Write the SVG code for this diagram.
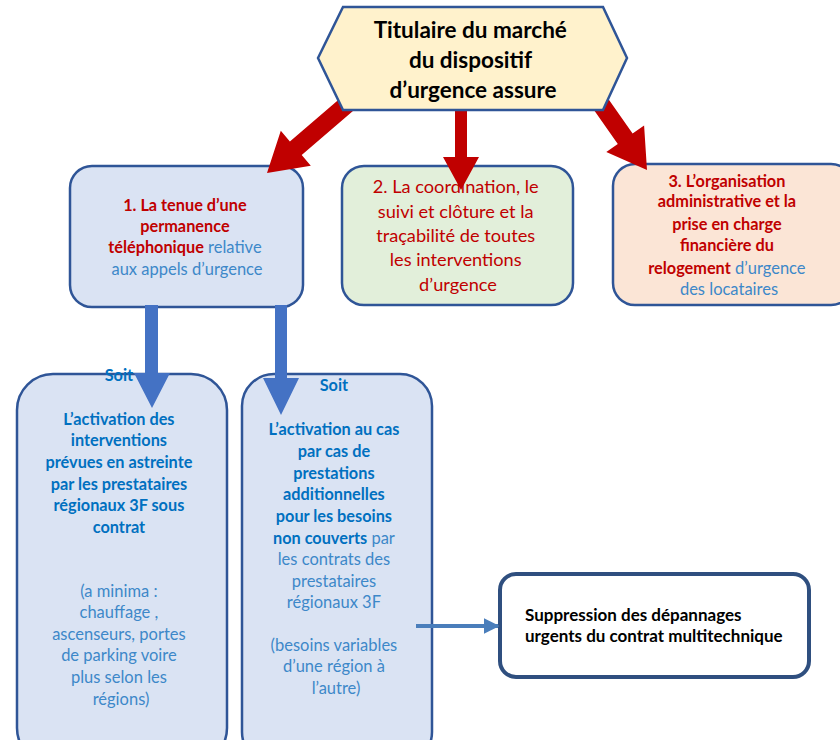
<svg xmlns="http://www.w3.org/2000/svg" width="840" height="740" viewBox="0 0 840 740">
<style>
.box{stroke:#2f5597;stroke-width:2.5}
.t{font-family:Lato,"Liberation Sans",sans-serif;text-anchor:middle}
.red{fill:#c00000}
.bb{fill:#0070c0;font-weight:bold}
.lb{fill:#3d88c9;font-size:16.5px}
.b{font-weight:bold}
.redarrow{fill:#c00000}
.bluearrow{fill:#4472c4}
</style>
<defs>
<marker id="ah" viewBox="0 0 10 10" refX="9" refY="5" markerWidth="4" markerHeight="4" orient="auto" markerUnits="strokeWidth">
<path d="M0,0 L10,5 L0,10 z" fill="#4a7ebb"/>
</marker>
</defs>
<rect width="840" height="740" fill="#ffffff"/>

<g id="n1">
<rect class="box" x="70" y="166" width="233" height="141" rx="22" fill="#dae3f3"/>
<text class="t" font-size="16.3">
<tspan class="red b" x="187" y="211">1. La tenue d’une</tspan>
<tspan class="red b" x="187" y="232">permanence</tspan>
<tspan x="187" y="253"><tspan class="red b">téléphonique</tspan><tspan class="lb"> relative</tspan></tspan>
<tspan class="lb" x="187" y="275">aux appels d’urgence</tspan>
</text>
</g>

<g id="n2">
<rect class="box" x="342" y="166" width="231" height="139" rx="22" fill="#e2efda"/>
<text class="t red" font-size="18.2">
<tspan x="458" y="193">2. La coordination, le</tspan>
<tspan x="458" y="218">suivi et clôture et la</tspan>
<tspan x="458" y="242">traçabilité de toutes</tspan>
<tspan x="458" y="266">les interventions</tspan>
<tspan x="458" y="291">d’urgence</tspan>
</text>
</g>

<g id="n3">
<rect class="box" x="613" y="164" width="240" height="141" rx="22" fill="#fbe5d6"/>
<text class="t" font-size="16.3">
<tspan class="red b" x="729" y="187">3. L’organisation</tspan>
<tspan class="red b" x="729" y="207">administrative  et la</tspan>
<tspan class="red b" x="729" y="230">prise en charge</tspan>
<tspan class="red b" x="729" y="251">financière du</tspan>
<tspan x="729" y="274"><tspan class="red b">relogement</tspan><tspan class="lb"> d’urgence</tspan></tspan>
<tspan class="lb" x="729" y="295">des locataires</tspan>
</text>
</g>

<g id="n4">
<rect class="box" x="17" y="374" width="210" height="390" rx="36" fill="#dae3f3"/>
<text class="t" font-size="16.3">
<tspan class="bb" x="121" y="381">Soit</tspan>
<tspan class="bb" x="121" y="425">L’activation des</tspan>
<tspan class="bb" x="121" y="446">interventions</tspan>
<tspan class="bb" x="121" y="468">prévues en astreinte</tspan>
<tspan class="bb" x="121" y="490">par  les prestataires</tspan>
<tspan class="bb" x="121" y="511">régionaux  3F sous</tspan>
<tspan class="bb" x="121" y="533">contrat</tspan>
<tspan class="lb" x="121" y="597">(a minima :</tspan>
<tspan class="lb" x="121" y="618">chauffage ,</tspan>
<tspan class="lb" x="121" y="640">ascenseurs, portes</tspan>
<tspan class="lb" x="121" y="661">de parking voire</tspan>
<tspan class="lb" x="121" y="683">plus selon les</tspan>
<tspan class="lb" x="121" y="705">régions)</tspan>
</text>
</g>

<g id="n5">
<rect class="box" x="242" y="374" width="190" height="390" rx="32" fill="#dae3f3"/>
<text class="t" font-size="16.3">
<tspan class="bb" x="336" y="391">Soit</tspan>
<tspan class="bb" x="336" y="435">L’activation au cas</tspan>
<tspan class="bb" x="336" y="457">par cas de</tspan>
<tspan class="bb" x="336" y="479">prestations</tspan>
<tspan class="bb" x="336" y="500">additionnelles</tspan>
<tspan class="bb" x="336" y="522">pour les  besoins</tspan>
<tspan x="336" y="544"><tspan class="bb">non couverts</tspan><tspan class="lb"> par</tspan></tspan>
<tspan class="lb" x="336" y="565">les contrats des</tspan>
<tspan class="lb" x="336" y="587">prestataires</tspan>
<tspan class="lb" x="336" y="608">régionaux 3F</tspan>
<tspan class="lb" x="336" y="651">(besoins variables</tspan>
<tspan class="lb" x="336" y="672">d’une région à</tspan>
<tspan class="lb" x="336" y="694">l’autre)</tspan>
</text>
</g>

<g id="n6">
<rect x="500" y="574" width="309" height="103" rx="16" fill="#ffffff" stroke="#2f4f7f" stroke-width="4"/>
<text font-family="Lato,'Liberation Sans',sans-serif" font-size="17" font-weight="bold" fill="#000000">
<tspan x="525" y="621">Suppression des dépannages</tspan>
<tspan x="525" y="642">urgents du contrat multitechnique</tspan>
</text>
</g>

<g id="connectors">
<polygon class="redarrow" points="357.9,106.8 301.7,155 310.8,165.7 267,173 280.8,130.7 289.9,141.4 346.1,93.2"/>
<polygon class="redarrow" points="455,100 467,100 467,157 479,157 461,190 443,157 455,157"/>
<polygon class="redarrow" points="590.6,105.2 617.8,144 606.3,152 647,170 644.1,125.6 632.6,133.6 605.4,94.8"/>
<polygon class="bluearrow" points="145,305 158,305 158,373 170,373 152,408 134,373 145,373"/>
<polygon class="bluearrow" points="275,305 287,305 287,378 299,378 281,415 263,378 275,378"/>
<line x1="416" y1="626" x2="498" y2="626" stroke="#4a7ebb" stroke-width="4" marker-end="url(#ah)"/>
</g>

<g id="n0">
<polygon points="318,58 343,7 603,7 627,58 603,110 343,110" fill="#fff2cc" stroke="#2f5597" stroke-width="2.5"/>
<text class="t b" font-size="22.5" fill="#000000">
<tspan x="473" y="38">Titulaire du marché</tspan>
<tspan x="473" y="68">du dispositif</tspan>
<tspan x="473" y="98">d’urgence assure</tspan>
</text>
</g>
</svg>
